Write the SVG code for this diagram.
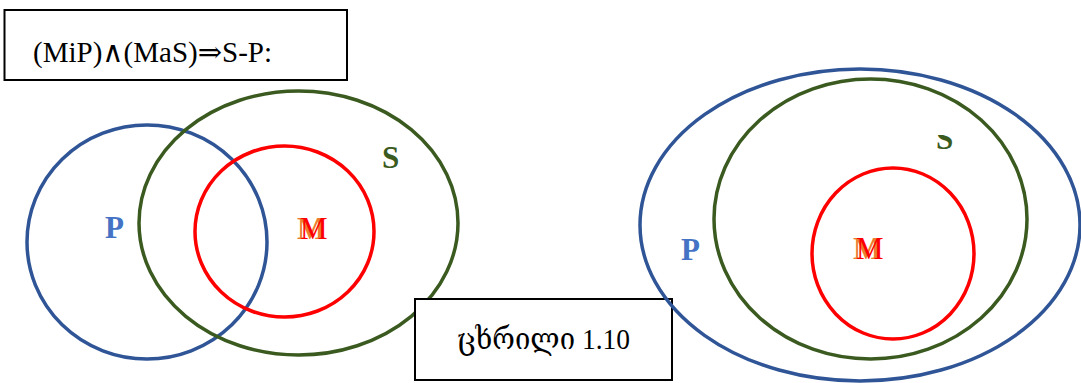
<svg xmlns="http://www.w3.org/2000/svg" width="1081" height="383" viewBox="0 0 1081 383">
<style>
.lbl{font-family:"Liberation Serif","Times New Roman",serif;font-weight:bold;font-size:31px}
.box{fill:#fff;stroke:#000;stroke-width:2}
.txt{font-family:"Liberation Serif","DejaVu Serif",serif;fill:#000}
.pc{fill:none;stroke:#2F5597;stroke-width:3.5}
.sc{fill:none;stroke:#3A5A20;stroke-width:3.5}
.mc{fill:none;stroke:#FF0000;stroke-width:3.5}
.p{fill:#4472C4}
.s{fill:#3A5A20}
.mo{fill:#ED7D31}
.mr{fill:#FF0000;font-weight:normal}
</style>
<defs>
<clipPath id="sclip"><rect x="900" y="135" width="80" height="40"/></clipPath>
</defs>
<g id="formula">
<rect class="box" x="4.5" y="10" width="342.5" height="70"/>
<text class="txt" x="33" y="62" font-size="29" textLength="239" lengthAdjust="spacingAndGlyphs">(MiP)∧(MaS)⇒S-P:</text>
</g>
<g id="left-P">
<ellipse class="pc" cx="147" cy="242" rx="120" ry="117"/>
<text class="lbl p" x="105" y="238">P</text>
</g>
<g id="left-S">
<ellipse class="sc" cx="298.5" cy="223" rx="159.5" ry="132"/>
<text class="lbl s" x="382" y="168">S</text>
</g>
<g id="left-M">
<ellipse class="mc" cx="284.5" cy="231.5" rx="89.5" ry="85.5"/>
<text class="lbl mo" x="297" y="239">M</text>
<text class="lbl mr" x="300" y="239">M</text>
</g>
<g id="caption">
<rect class="box" x="415" y="299" width="257" height="81"/>
<text class="txt" x="457" y="349" font-size="29" textLength="173" lengthAdjust="spacingAndGlyphs">ცხრილი 1.10</text>
</g>
<g id="right-P">
<ellipse class="pc" cx="860" cy="225" rx="220" ry="156"/>
<text class="lbl p" x="681" y="260">P</text>
</g>
<g id="right-S">
<ellipse class="sc" cx="870.5" cy="219" rx="156.5" ry="140"/>
<text class="lbl s" x="936" y="149" clip-path="url(#sclip)">S</text>
</g>
<g id="right-M">
<ellipse class="mc" cx="893" cy="253.5" rx="81" ry="85.5"/>
<text class="lbl mo" x="853" y="259">M</text>
<text class="lbl mr" x="856" y="259">M</text>
</g>
<g id="connectors"></g>
</svg>
